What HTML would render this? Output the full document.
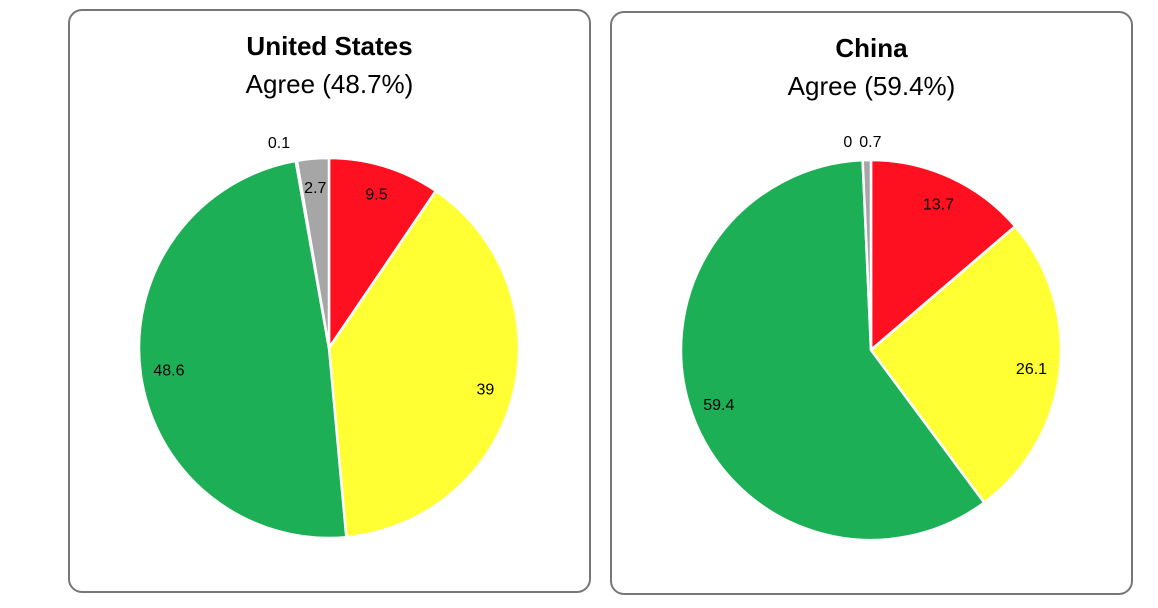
<!DOCTYPE html>
<html><head><meta charset="utf-8">
<style>
body{margin:0;background:#fff;width:1158px;height:608px;overflow:hidden;font-family:"Liberation Sans",sans-serif;}
.panel{position:absolute;border:2px solid #777;border-radius:14px;box-sizing:border-box;background:#fff;}
.t1{position:absolute;width:100%;text-align:center;font-weight:bold;font-size:26px;color:#000;}
.t2{position:absolute;width:100%;text-align:center;font-size:26px;color:#000;}
svg{position:absolute;left:0;top:0;}
</style></head><body>
<div class="panel" style="left:68px;top:9px;width:523px;height:584px;">
  <div class="t1" style="top:20px;">United States</div>
  <div class="t2" style="top:58px;">Agree (48.7%)</div>
</div>
<div class="panel" style="left:610px;top:11px;width:523px;height:584px;">
  <div class="t1" style="top:20px;">China</div>
  <div class="t2" style="top:58px;">Agree (59.4%)</div>
</div>
<svg id="chart" width="1158" height="608"></svg>
<script>
const categories = ["Disagree","Neutral","Agree","Other","Unknown"];
const usValues = [9.5, 39, 48.6, 0.1, 2.7];
const chinaValues = [13.7, 26.1, 59.4, 0, 0.7];
const colors = ["#FF1020","#FFFF33","#1DAF55","#A6A6A6","#A6A6A6"];
const NS="http://www.w3.org/2000/svg";
const svg=document.getElementById('chart');
function drawPie(values,cx,cy,R,name){
  const total=values.reduce((a,b)=>a+b,0);
  let a0=0;
  values.forEach((v,i)=>{
    const a1=a0+v/total*2*Math.PI;
    const p=document.createElementNS(NS,'path');
    const x0=cx+R*Math.sin(a0),y0=cy-R*Math.cos(a0),x1=cx+R*Math.sin(a1),y1=cy-R*Math.cos(a1);
    const large=(a1-a0)>Math.PI?1:0;
    if(v>0){
      p.setAttribute('d',`M${cx},${cy}L${x0},${y0}A${R},${R} 0 ${large} 1 ${x1},${y1}Z`);
      p.setAttribute('fill',colors[i]);p.setAttribute('stroke','#fff');p.setAttribute('stroke-width','2.5');
      
      
      svg.appendChild(p);
    }
    const am=(a0+a1)/2;
    const lr=(v/total<0.01)?R*1.1:R*0.85;
    let lx=cx+lr*Math.sin(am),ly=cy-lr*Math.cos(am);
    if(v/total<0.01&&i===3)lx-=14;
    if(v/total<0.01&&i===4)lx+=4;
    const t=document.createElementNS(NS,'text');
    t.setAttribute('x',lx);t.setAttribute('y',ly+6);t.setAttribute('text-anchor','middle');
    t.setAttribute('font-size','16');t.setAttribute('font-family','Liberation Sans, sans-serif');
    t.textContent=String(v);
    
    
    svg.appendChild(t);
    a0=a1;
  });
}
drawPie(usValues,329,348,190,'us');
drawPie(chinaValues,871,350,190,'china');
</script>
</body></html>
